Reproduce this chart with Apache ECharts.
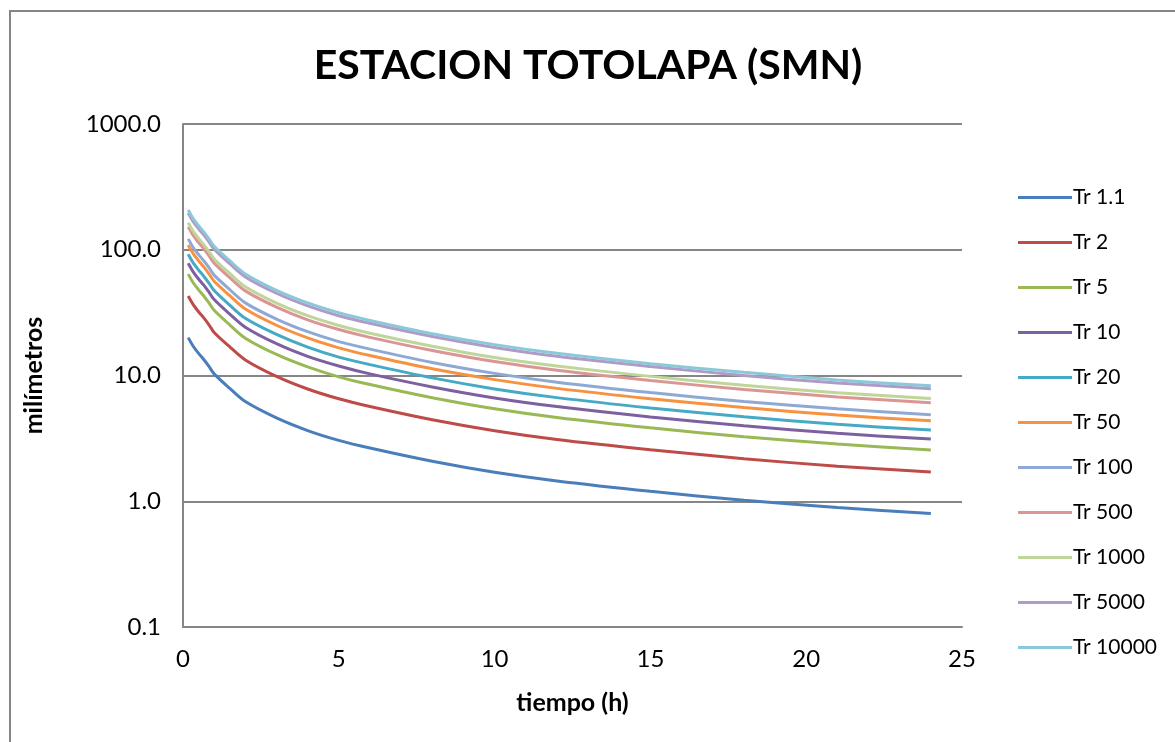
<!DOCTYPE html>
<html>
<head>
<meta charset="utf-8">
<script src="https://cdn.jsdelivr.net/npm/echarts@6/dist/echarts.min.js"></script>
<style>
  html, body { margin: 0; padding: 0; background: #fff; }
  #chart { width: 1175px; height: 742px; }
</style>
</head>
<body>
<div id="chart"></div>
<script>
  // duration (hours)
  var tiempo = [0.167, 0.333, 0.5, 0.667, 0.833, 1, 1.5, 2, 3, 4, 5, 6, 8, 10, 12, 15, 18, 21, 24];

  var names = ['Tr 1.1', 'Tr 2', 'Tr 5', 'Tr 10', 'Tr 20', 'Tr 50', 'Tr 100', 'Tr 500', 'Tr 1000', 'Tr 5000', 'Tr 10000'];
  var colors = ['#4A7EBB', '#BE4B48', '#98B954', '#7D60A0', '#46AAC5', '#F69240', '#8FA9D6', '#D99694', '#BFD59A', '#AE9BC6', '#8DC8DA'];

  var tr1_1 = [20.0, 17.0, 15.0, 13.4, 11.8, 10.3, 7.9, 6.2, 4.6, 3.65, 3.05, 2.65, 2.08, 1.70, 1.45, 1.20, 1.02, 0.89, 0.80];
  var tr2 = [42.8, 36.4, 32.1, 28.7, 25.3, 22.0, 16.9, 13.3, 9.84, 7.81, 6.53, 5.67, 4.45, 3.64, 3.10, 2.57, 2.18, 1.90, 1.71];
  var tr5 = [64.0, 54.4, 48.0, 42.9, 37.8, 33.0, 25.3, 19.8, 14.7, 11.7, 9.76, 8.48, 6.66, 5.44, 4.64, 3.84, 3.26, 2.85, 2.56];
  var tr10 = [78.0, 66.3, 58.5, 52.3, 46.0, 40.2, 30.8, 24.2, 17.9, 14.2, 11.9, 10.3, 8.11, 6.63, 5.66, 4.68, 3.98, 3.47, 3.12];
  var tr20 = [92.0, 78.2, 69.0, 61.6, 54.3, 47.4, 36.3, 28.5, 21.2, 16.8, 14.0, 12.2, 9.57, 7.82, 6.67, 5.52, 4.69, 4.09, 3.68];
  var tr50 = [109.0, 92.7, 81.8, 73.0, 64.3, 56.1, 43.1, 33.8, 25.1, 19.9, 16.6, 14.4, 11.3, 9.27, 7.90, 6.54, 5.56, 4.85, 4.36];
  var tr100 = [122.0, 103.7, 91.5, 81.7, 72.0, 62.8, 48.2, 37.8, 28.1, 22.3, 18.6, 16.2, 12.7, 10.4, 8.85, 7.32, 6.22, 5.43, 4.88];
  var tr500 = [152.0, 129.2, 114.0, 101.8, 89.7, 78.3, 60.0, 47.1, 35.0, 27.7, 23.2, 20.1, 15.8, 12.9, 11.0, 9.12, 7.75, 6.76, 6.08];
  var tr1000 = [164.0, 139.4, 123.0, 109.9, 96.8, 84.5, 64.8, 50.8, 37.7, 29.9, 25.0, 21.7, 17.1, 13.9, 11.9, 9.84, 8.36, 7.30, 6.56];
  var tr5000 = [196.0, 166.6, 147.0, 131.3, 115.6, 100.9, 77.4, 60.8, 45.1, 35.8, 29.9, 26.0, 20.4, 16.7, 14.2, 11.8, 10.0, 8.72, 7.84];
  var tr10000 = [207.0, 176.0, 155.3, 138.7, 122.1, 106.6, 81.8, 64.2, 47.6, 37.8, 31.6, 27.4, 21.5, 17.6, 15.0, 12.4, 10.6, 9.21, 8.28];

  var allData = [tr1_1, tr2, tr5, tr10, tr20, tr50, tr100, tr500, tr1000, tr5000, tr10000];

  var font = 'Lato, "Open Sans", sans-serif';

  function makeSeries(name, vals, color) {
      return {
          name: name,
          type: 'line',
          data: tiempo.map(function (t, i) { return [t, vals[i]]; }),
          showSymbol: false,
          symbol: 'none',
          smooth: 0.3,
          lineStyle: { width: 3, color: color },
          itemStyle: { color: color }
      };
  }

  var series = [];
  for (var i = 0; i < names.length; i++) {
      series.push(makeSeries(names[i], allData[i], colors[i]));
  }

  var chart = echarts.init(document.getElementById('chart'));
  chart.setOption({
      animation: false,
      backgroundColor: '#fff',
      title: {
          text: 'ESTACION TOTOLAPA (SMN)',
          left: 588,
          textAlign: 'center',
          top: 45,
          padding: 0,
          textStyle: { fontFamily: font, fontSize: 41, fontWeight: 'bold', color: '#000' }
      },
      graphic: [{
          type: 'rect',
          shape: { x: 10, y: 11, width: 1200, height: 800 },
          style: { fill: 'none', stroke: '#868686', lineWidth: 2 },
          silent: true
      }],
      legend: {
          orient: 'vertical',
          left: 1018,
          top: 187,
          padding: 0,
          itemGap: 24,
          itemWidth: 54,
          itemHeight: 3,
          icon: 'rect',
          textStyle: { fontFamily: font, fontSize: 21, color: '#000', padding: [0, 0, 0, -4] },
          data: names
      },
      grid: { left: 183, right: 213, top: 124, bottom: 115, containLabel: false },
      xAxis: {
          type: 'value',
          min: 0,
          max: 25,
          interval: 5,
          name: 'tiempo (h)',
          nameLocation: 'middle',
          nameGap: 63,
          nameTextStyle: { fontFamily: font, fontSize: 25, fontWeight: 'bold', color: '#000' },
          axisLine: { show: true, lineStyle: { color: '#868686', width: 2 } },
          axisTick: { show: false },
          axisLabel: { fontFamily: font, fontSize: 24, color: '#000', margin: 20 },
          splitLine: { show: false }
      },
      yAxis: {
          type: 'log',
          logBase: 10,
          min: 0.1,
          max: 1000,
          name: 'milímetros',
          nameLocation: 'middle',
          nameGap: 137,
          nameRotate: 90,
          nameTextStyle: { fontFamily: font, fontSize: 25, fontWeight: 'bold', color: '#000' },
          axisLine: { show: true, lineStyle: { color: '#868686', width: 2 } },
          axisTick: { show: false },
          axisLabel: {
              fontFamily: font, fontSize: 24, color: '#000', margin: 22,
              formatter: function (v) { return Number(v).toFixed(1); }
          },
          splitLine: { show: true, lineStyle: { color: '#868686', width: 2 } }
      },
      series: series
  });
</script>
</body>
</html>
